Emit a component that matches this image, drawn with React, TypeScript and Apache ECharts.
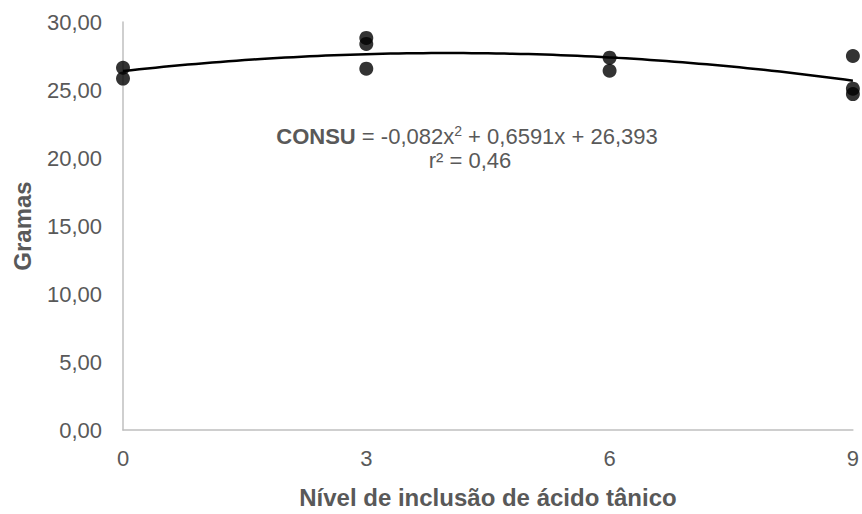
import React, { useEffect, useRef } from "react";
import * as echarts from "echarts";

const levels = [0, 0, 3, 3, 3, 6, 6, 9, 9, 9];
const grams = [26.64, 25.84, 28.83, 28.39, 26.57, 27.38, 26.42, 27.5, 25.1, 24.7];
// trendline coefficients shown on the chart: a x^2 + b x + c
const coef = [-0.082, 0.6591, 26.393];
const equationLines = ["{b|CONSU} = -0,082x{s|2} + 0,6591x + 26,393", "r² = 0,46"];

export default function App() {
  const ref = useRef<HTMLDivElement>(null);
  useEffect(() => {
    if (!ref.current) return;
    const chart = echarts.init(ref.current, null, { renderer: "svg" });
    const trend: number[][] = [];
    for (let i = 0; i <= 90; i++) {
      const x = i / 10;
      trend.push([x, coef[0] * x * x + coef[1] * x + coef[2]]);
    }
    const font = "'Liberation Sans', Arial, sans-serif";
    const grey = "#595959";
    chart.setOption({
      animation: false,
      textStyle: { fontFamily: font },
      grid: { left: 123, right: 9, top: 22, bottom: 81 },
      xAxis: {
        type: "value",
        min: 0,
        max: 9,
        interval: 3,
        name: "Nível de inclusão de ácido tânico",
        nameLocation: "middle",
        nameGap: 55,
        nameTextStyle: { fontSize: 24, fontWeight: "bold", color: grey, fontFamily: font },
        axisLine: { show: true, lineStyle: { color: "#bfbfbf", width: 1.5 } },
        axisTick: { show: false },
        splitLine: { show: false },
        axisLabel: { fontSize: 22, color: grey, margin: 17, fontFamily: font },
      },
      yAxis: {
        type: "value",
        min: 0,
        max: 30,
        interval: 5,
        name: "Gramas",
        nameLocation: "middle",
        nameGap: 89,
        nameTextStyle: { fontSize: 24, fontWeight: "bold", color: grey, fontFamily: font },
        axisLine: { show: true, lineStyle: { color: "#bfbfbf", width: 1.5 } },
        axisTick: { show: false },
        splitLine: { show: false },
        axisLabel: {
          fontSize: 22,
          color: grey,
          margin: 21,
          fontFamily: font,
          formatter: (v: number) => v.toFixed(2).replace(".", ","),
        },
      },
      series: [
        {
          type: "scatter",
          data: levels.map((x, i) => [x, grams[i]]),
          symbolSize: 14,
          itemStyle: { color: "#000000" },
          z: 3,
        },
        {
          type: "line",
          data: trend,
          showSymbol: false,
          lineStyle: { color: "#000000", width: 2.5 },
          z: 4,
        },
      ],
      graphic: [
        {
          type: "text",
          x: 467,
          y: 136,
          style: {
            text: equationLines[0],
            align: "center",
            verticalAlign: "middle",
            rich: {
              b: { fontWeight: "bold", fontSize: 22, fill: grey, fontFamily: font },
              s: { fontSize: 14, fill: grey, fontFamily: font, verticalAlign: "top", padding: [0, 0, 10, 0] },
            },
            fontSize: 22,
            fill: grey,
            fontFamily: font,
          },
        },
        {
          type: "text",
          x: 470,
          y: 160,
          style: {
            text: equationLines[1],
            align: "center",
            verticalAlign: "middle",
            fontSize: 22,
            fill: grey,
            fontFamily: font,
          },
        },
      ],
    });
    return () => chart.dispose();
  }, []);
  return <div ref={ref} style={{ position: "absolute", left: 0, top: 0, width: 862, height: 514 }} />;
}
